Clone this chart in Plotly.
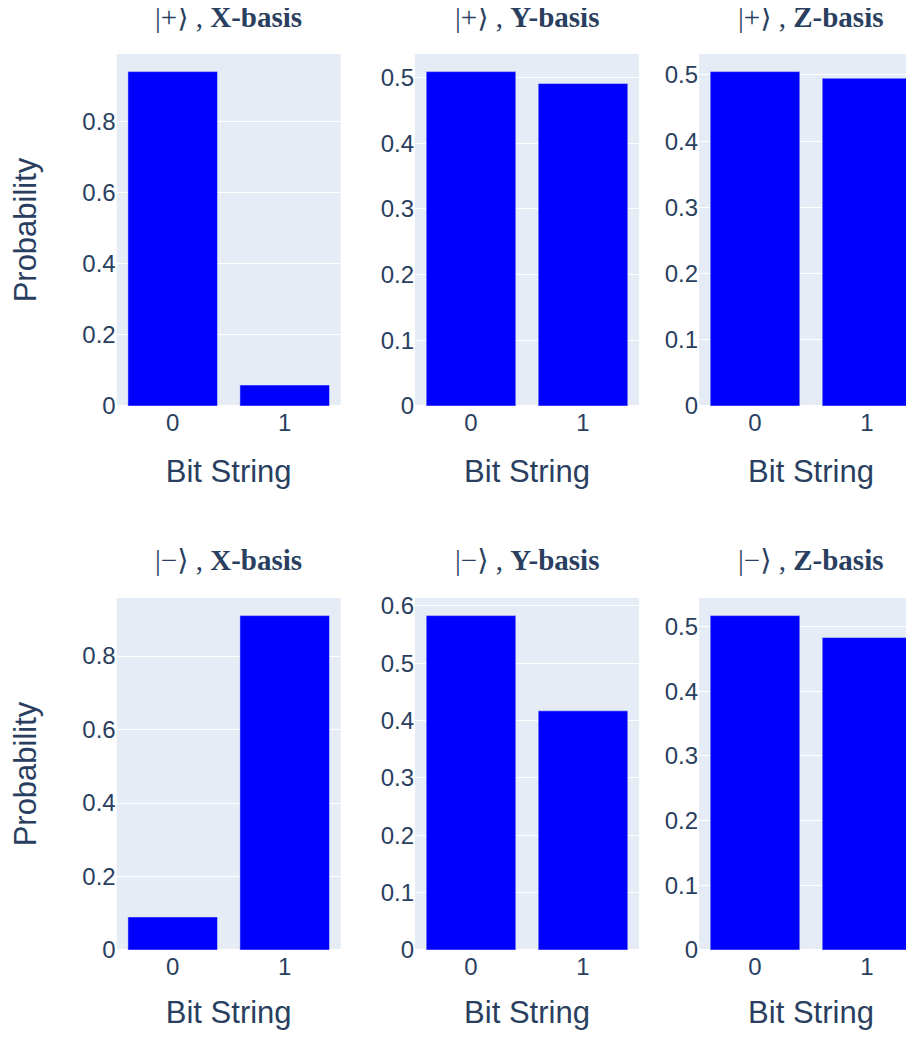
import plotly.graph_objects as go

# ---- data ----
bit_strings = ["0", "1"]
state_labels = ["|+⟩", "|−⟩"]
basis_labels = ["X-basis", "Y-basis", "Z-basis"]
plus_x = [0.941, 0.059]
plus_y = [0.509, 0.491]
plus_z = [0.505, 0.495]
minus_x = [0.09, 0.91]
minus_y = [0.583, 0.417]
minus_z = [0.517, 0.483]
values = [[plus_x, plus_y, plus_z], [minus_x, minus_y, minus_z]]
y_dticks = [0.2, 0.1, 0.1]

# ---- geometry (figure pixels) ----
W, H = 930, 1022
col_px = [(108.7, 332.7), (407, 631), (691, 915)]
row_px = [(46, 398), (590, 942)]
title_y_px = [9, 552]

fig = go.Figure()
font_color = "#2a3f5f"
annotations = []
n = 0
for r in range(2):
    for c in range(3):
        n += 1
        xa = "x" if n == 1 else f"x{n}"
        ya = "y" if n == 1 else f"y{n}"
        fig.add_trace(go.Bar(x=bit_strings, y=values[r][c], marker_color="#0000FF",
                             showlegend=False, xaxis=xa, yaxis=ya))
        x0, x1 = col_px[c]
        y0, y1 = row_px[r]
        xkey = "xaxis" if n == 1 else f"xaxis{n}"
        ykey = "yaxis" if n == 1 else f"yaxis{n}"
        fig.update_layout({
            xkey: dict(domain=[x0 / W, x1 / W], anchor=ya, automargin=False,
                       title=dict(text="Bit String", font=dict(size=31), standoff=25),
                       tickfont=dict(size=24), type="category"),
            ykey: dict(domain=[1 - y1 / H, 1 - y0 / H], anchor=xa, automargin=False,
                       title=dict(text="Probability" if c == 0 else "", font=dict(size=31),
                                  standoff=38),
                       tickmode="linear", tick0=0, dtick=y_dticks[c],
                       tickfont=dict(size=24)),
        })
        annotations.append(dict(
            text=f"{state_labels[r]} , <b>{basis_labels[c]}</b>",
            x=(x0 + x1) / 2 / W, y=1 - title_y_px[r] / H, xref="paper", yref="paper",
            xanchor="center", yanchor="middle", showarrow=False,
            font=dict(family="Liberation Serif, DejaVu Serif, serif", size=29, color=font_color)))

fig.update_layout(width=W, height=H, template="plotly",
                  margin=dict(l=0, r=0, t=0, b=0, autoexpand=False),
                  font=dict(family="Liberation Sans, Arial, sans-serif", color=font_color),
                  annotations=annotations, bargap=0.2)

fig.write_html("out.html")
